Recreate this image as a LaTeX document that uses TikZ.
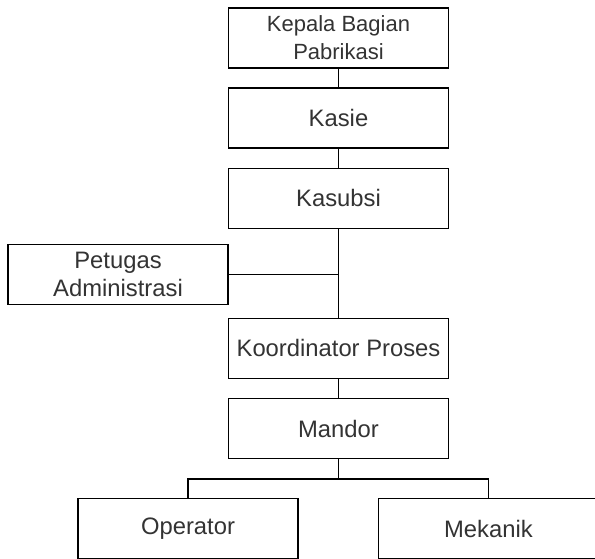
\documentclass[tikz,border=0pt]{standalone}
\usepackage{fontspec}
\setmainfont{Liberation Sans}
\begin{document}
\begin{tikzpicture}[x=1pt,y=1pt,
  box/.style={draw=black, line width=1.4pt, fill=white, minimum width=220pt, minimum height=60pt,
    inner sep=0pt, align=center, text=black!80, font=\fontsize{23.8}{28}\selectfont},
  topbox/.style={box, font=\fontsize{22}{28}\selectfont},
  conn/.style={draw=black, line width=1.4pt}]
\useasboundingbox[fill=white] (0,0) rectangle (595,-559);
\node[topbox] (kepala) at (338.5,-38) {Kepala Bagian\\Pabrikasi};
\node[box] (kasie) at (338.5,-118) {Kasie};
\node[box] (kasubsi) at (338.5,-198.3) {Kasubsi};
\node[box] (petugas) at (118,-274.3) {Petugas\\Administrasi};
\node[box] (koord) at (338.5,-348.3) {Koordinator Proses};
\node[box] (mandor) at (338.5,-428.7) {Mandor};
\node[box] (operator) at (188,-528.5) {Operator};
\node[box] (mekanik) at (488.4,-528.5) {Mekanik};
\coordinate (br) at (338.5,-479);
\draw[conn] (kepala.south) -- (kasie.north);
\draw[conn] (kasie.south) -- (kasubsi.north);
\draw[conn] (kasubsi.south) -- (koord.north);
\draw[conn] (petugas.east) -- (petugas.east -| kasubsi.south);
\draw[conn] (koord.south) -- (mandor.north);
\draw[conn] (mandor.south) -- (br);
\draw[conn] (operator.north) |- (br) -| (mekanik.north);
\end{tikzpicture}
\end{document}
